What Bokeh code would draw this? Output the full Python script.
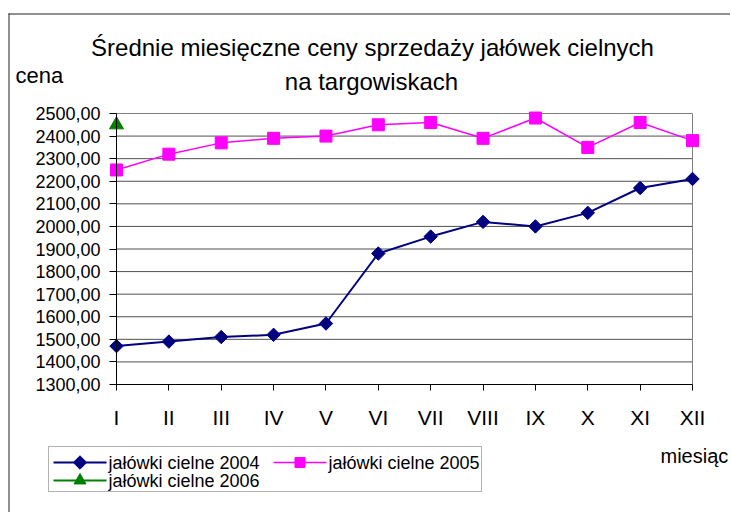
import math
from bokeh.plotting import figure
from bokeh.models import Range1d, FixedTicker, Label, BoxAnnotation
from bokeh.embed import file_html
from bokeh.resources import INLINE

# ---- data ----
months = ["I", "II", "III", "IV", "V", "VI", "VII", "VIII", "IX", "X", "XI", "XII"]
ceny_2004 = [1470, 1490, 1510, 1520, 1570, 1880, 1955, 2020, 2000, 2060, 2170, 2210]
ceny_2005 = [2250, 2320, 2370, 2390, 2400, 2450, 2460, 2390, 2480, 2350, 2460, 2380]
ceny_2006 = [2450]
y_ticks = [1300, 1400, 1500, 1600, 1700, 1800, 1900, 2000, 2100, 2200, 2300, 2400, 2500]
y_tick_labels = ["1300,00", "1400,00", "1500,00", "1600,00", "1700,00", "1800,00", "1900,00",
                 "2000,00", "2100,00", "2200,00", "2300,00", "2400,00", "2500,00"]
series_names = ["jałówki cielne 2004", "jałówki cielne 2005", "jałówki cielne 2006"]
title_lines = ["Średnie miesięczne ceny sprzedaży jałówek cielnych", "na targowiskach"]
y_title = "cena"
x_title = "miesiąc"

# ---- layout geometry (page pixels) ----
W, H = 730, 512
OX, OY = 0, 0              # page position of the canvas origin
BORDER_L, BORDER_T = 8, 13  # outer chart border
PLOT_L, PLOT_R = 116, 692  # page x of first / last month
PLOT_T, PLOT_B = 113, 384  # page y of top / bottom tick
x_idx = list(range(len(months)))
x_first, x_last = x_idx[0], x_idx[-1]
kx = (PLOT_R - PLOT_L) / (x_last - x_first)
ky = (PLOT_B - PLOT_T) / (y_ticks[-1] - y_ticks[0])
x_lo = x_first - (PLOT_L - OX) / kx
x_hi = x_last + (OX + W - PLOT_R) / kx
y_hi = y_ticks[-1] + (PLOT_T - OY) / ky
y_lo = y_ticks[0] - (OY + H - PLOT_B) / ky
TEXT_DY = 7  # baseline correction for labels


def gx(px):
    return x_lo + (px - OX) / kx


def gy(py):
    return y_hi - (py - OY) / ky


def ty(py):
    return gy(py - TEXT_DY)


NAVY, MAGENTA, GREEN = "#000080", "#FF00FF", "#008000"
FONT = "Liberation Sans"

p = figure(width=W, height=H, x_range=Range1d(x_lo, x_hi), y_range=Range1d(y_lo, y_hi),
           output_backend="svg", toolbar_location=None, tools="",
           min_border_left=0, min_border_right=0, min_border_top=0, min_border_bottom=0)
p.toolbar.logo = None
p.title.visible = False
p.outline_line_color = None
p.xgrid.grid_line_color = None
p.ygrid.grid_line_color = None
p.background_fill_color = "white"
p.border_fill_color = "white"
p.styles = {"overflow": "hidden"}

# outer chart border (left and top edges; right/bottom lie outside the window)
p.segment(x0=[gx(BORDER_L + 0.5), gx(BORDER_L)], x1=[gx(BORDER_L + 0.5), gx(OX + W)],
          y0=[gy(BORDER_T), gy(BORDER_T + 0.5)], y1=[gy(OY + H), gy(BORDER_T + 0.5)],
          line_color="#222222", line_width=1)

inner = y_ticks[1:-1]
p.segment(x0=[x_first] * len(inner), x1=[x_last] * len(inner), y0=inner, y1=inner,
          line_color="#505050", line_width=1)
p.segment(x0=[x_first], x1=[x_last], y0=[y_ticks[-1]], y1=[y_ticks[-1]], line_color="#808080", line_width=1)
p.segment(x0=[x_last], x1=[x_last], y0=[y_ticks[0]], y1=[y_ticks[-1]], line_color="#808080", line_width=1)

# axes
ya = p.yaxis[0]
ya.fixed_location = x_first
ya.bounds = (y_ticks[0], y_ticks[-1])
ya.ticker = FixedTicker(ticks=y_ticks)
ya.major_label_overrides = {t: s for t, s in zip(y_ticks, y_tick_labels)}
ya.minor_tick_line_color = None
ya.major_tick_out = 7
ya.major_tick_in = 0
ya.major_label_standoff = 9
ya.major_label_text_font = FONT
ya.major_label_text_font_size = "18px"
ya.major_label_text_color = "black"
ya.axis_line_color = "black"

xa = p.xaxis[0]
xa.fixed_location = y_ticks[0]
xa.bounds = (x_first, x_last)
xa.ticker = FixedTicker(ticks=x_idx)
xa.major_label_overrides = {i: m for i, m in zip(x_idx, months)}
xa.minor_tick_line_color = None
xa.major_tick_out = 6
xa.major_tick_in = 0
xa.major_label_standoff = 15
xa.major_label_text_font = FONT
xa.major_label_text_font_size = "21px"
xa.major_label_text_color = "black"
xa.axis_line_color = "black"

# series
DIAMOND_SIZE, SQUARE_SIZE, TRI_SIZE = 9.5, 12, 14
p.line(x_idx, ceny_2004, line_color=NAVY, line_width=2)
p.scatter(x_idx, ceny_2004, marker="square", angle=math.pi / 4, size=DIAMOND_SIZE,
          fill_color=NAVY, line_color=NAVY)
p.line(x_idx, ceny_2005, line_color=MAGENTA, line_width=1.5)
p.scatter(x_idx, ceny_2005, marker="square", size=SQUARE_SIZE, fill_color=MAGENTA, line_color=MAGENTA)
x06 = x_idx[:len(ceny_2006)]
p.scatter(x06, ceny_2006, marker="triangle", size=TRI_SIZE, fill_color=GREEN, line_color=GREEN)

# legend (drawn box: 2 columns, 2 rows)
LEG_L, LEG_R, LEG_T, LEG_B = 48, 481, 446, 491
ROW_Y = [462, 480]
COL_X = [53, 273]
GLYPH_W = 53
legend_style = [
    (NAVY, "square", math.pi / 4, DIAMOND_SIZE, 2),
    (MAGENTA, "square", 0, SQUARE_SIZE - 2, 1.5),
    (GREEN, "triangle", 0, TRI_SIZE - 2, 2),
]
p.add_layout(BoxAnnotation(left=gx(LEG_L), right=gx(LEG_R), top=gy(LEG_T), bottom=gy(LEG_B),
                           fill_alpha=0, line_color="black", line_width=1))
for i, (name, (col, mk, ang, sz, lw)) in enumerate(zip(series_names, legend_style)):
    r, c = divmod(i, 2)
    x0 = COL_X[c]
    yc = ROW_Y[r]
    p.segment(x0=[gx(x0)], x1=[gx(x0 + GLYPH_W)], y0=[gy(yc)], y1=[gy(yc)], line_color=col, line_width=lw)
    p.scatter([gx(x0 + GLYPH_W / 2)], [gy(yc)], marker=mk, angle=ang, size=sz, fill_color=col, line_color=col)
    p.add_layout(Label(x=gx(x0 + GLYPH_W + 2), y=ty(yc + 7), text=name, text_align="left",
                       text_baseline="alphabetic", text_font=FONT, text_font_size="18px",
                       text_color="black"))

# texts
p.add_layout(Label(x=gx(372), y=ty(54), text=title_lines[0], text_align="center",
                   text_baseline="alphabetic", text_font=FONT, text_font_size="24px",
                   text_color="black"))
p.add_layout(Label(x=gx(371), y=ty(88), text=title_lines[1], text_align="center",
                   text_baseline="alphabetic", text_font=FONT, text_font_size="24px",
                   text_color="black"))
p.add_layout(Label(x=gx(15), y=ty(82), text=y_title, text_align="left",
                   text_baseline="alphabetic", text_font=FONT, text_font_size="22px",
                   text_color="black"))
p.add_layout(Label(x=gx(660), y=ty(462), text=x_title, text_align="left",
                   text_baseline="alphabetic", text_font=FONT, text_font_size="20px",
                   text_color="black"))

open("out.html", "w").write(file_html(p, INLINE))
